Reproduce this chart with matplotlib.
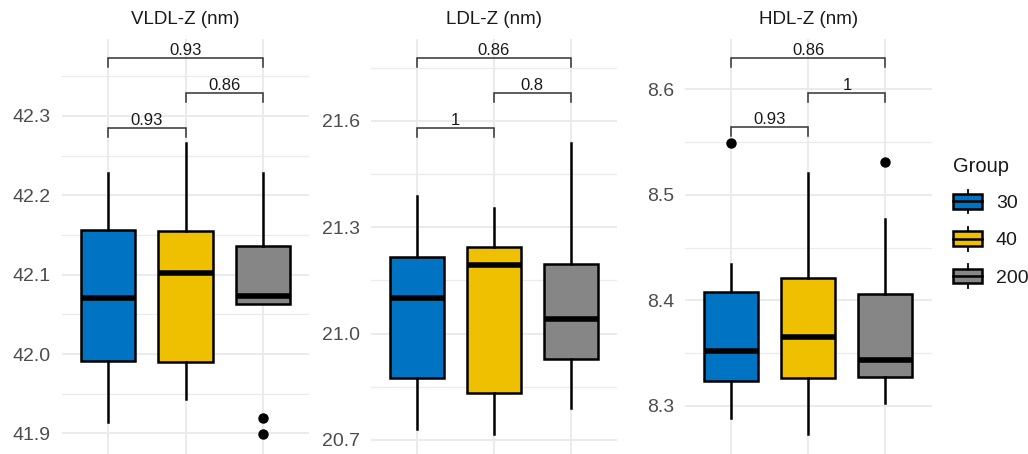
import matplotlib
matplotlib.use("Agg")
import matplotlib.pyplot as plt
from matplotlib.patches import Rectangle, Patch
from matplotlib.lines import Line2D
from matplotlib.legend_handler import HandlerBase
from matplotlib.ticker import FixedLocator, FormatStrFormatter

plt.rcParams['font.family'] = ['Liberation Sans', 'DejaVu Sans']

# ---- data ----------------------------------------------------------------
groups = ["30", "40", "200"]
group_colors = ["#0073C2", "#EFC000", "#868686"]

panel_titles = ["VLDL-Z (nm)", "LDL-Z (nm)", "HDL-Z (nm)"]

# five-number summaries per group: [whisker low, Q1, median, Q3, whisker high]
vldl_stats = [[41.914, 41.991, 42.071, 42.156, 42.228],
              [41.943, 41.990, 42.102, 42.155, 42.266],
              [42.063, 42.063, 42.073, 42.136, 42.228]]
vldl_outliers = [[], [], [41.919, 41.899]]

ldl_stats = [[20.730, 20.874, 21.100, 21.216, 21.389],
             [20.716, 20.832, 21.194, 21.245, 21.355],
             [20.791, 20.928, 21.040, 21.196, 21.537]]
ldl_outliers = [[], [], []]

hdl_stats = [[8.288, 8.3235, 8.352, 8.408, 8.434],
             [8.273, 8.326, 8.3655, 8.421, 8.521],
             [8.303, 8.327, 8.343, 8.406, 8.477]]
hdl_outliers = [[8.549], [], [8.531]]

# pairwise comparisons (group indices, 1-based) and their p-values
comparisons = [(1, 2), (2, 3), (1, 3)]
vldl_pvalues = ["0.93", "0.86", "0.93"]
ldl_pvalues = ["1", "0.8", "0.86"]
hdl_pvalues = ["0.93", "1", "0.86"]

vldl_bracket_y = [42.285, 42.329, 42.373]
ldl_bracket_y = [21.581, 21.679, 21.778]
hdl_bracket_y = [8.564, 8.5965, 8.630]

vldl_ticks = [41.9, 42.0, 42.1, 42.2, 42.3]
ldl_ticks = [20.7, 21.0, 21.3, 21.6]
hdl_ticks = [8.3, 8.4, 8.5, 8.6]

# ---- layout ---------------------------------------------------------------
W, H = 1028, 454
fig = plt.figure(figsize=(W / 100, H / 100), dpi=100)

panel_px = [(62, 309), (370.7, 617), (685, 931.7)]
top_px = 39
ylims = [(41.874, 42.397), (20.660, 21.831), (8.2543, 8.6477)]

panels = [
    (vldl_stats, vldl_outliers, vldl_pvalues, vldl_bracket_y, vldl_ticks),
    (ldl_stats, ldl_outliers, ldl_pvalues, ldl_bracket_y, ldl_ticks),
    (hdl_stats, hdl_outliers, hdl_pvalues, hdl_bracket_y, hdl_ticks),
]

GRID = "#EBEBEB"

for i, (stats, outliers, pvals, br_y, ticks) in enumerate(panels):
    x0, x1 = panel_px[i]
    ax = fig.add_axes([x0 / W, 0, (x1 - x0) / W, (H - top_px) / H])
    ax.set_xlim(0.4, 3.6)
    ax.set_ylim(*ylims[i])

    # grid
    step = ticks[1] - ticks[0]
    minor = [t + step / 2 for t in [ticks[0] - step] + ticks]
    ax.yaxis.set_major_locator(FixedLocator(ticks))
    ax.yaxis.set_minor_locator(FixedLocator(minor))
    ax.yaxis.set_major_formatter(FormatStrFormatter('%.1f'))
    ax.set_xticks([1, 2, 3])
    ax.tick_params(axis='x', labelbottom=False)
    ax.grid(True, which='major', axis='both', color=GRID, lw=1.4)
    ax.grid(True, which='minor', axis='y', color=GRID, lw=0.9)
    ax.set_axisbelow(True)
    ax.tick_params(axis='both', which='both', length=0)
    ax.tick_params(axis='y', labelsize=14, labelcolor="#4D4D4D", pad=8)
    for s in ax.spines.values():
        s.set_visible(False)

    # boxes
    bxp_stats = []
    for g, (lo, q1, med, q3, hi) in enumerate(stats):
        bxp_stats.append(dict(whislo=lo, q1=q1, med=med, q3=q3, whishi=hi,
                              fliers=outliers[g], label=groups[g]))
    bp = ax.bxp(bxp_stats, positions=[1, 2, 3], widths=0.7, patch_artist=True,
                showcaps=False,
                boxprops=dict(linewidth=1.8, edgecolor='black'),
                medianprops=dict(color='black', linewidth=4, solid_capstyle='butt'),
                whiskerprops=dict(color='black', linewidth=1.8),
                flierprops=dict(marker='o', markerfacecolor='black',
                                markeredgecolor='black', markersize=6.5))
    for patch, c in zip(bp['boxes'], group_colors):
        patch.set_facecolor(c)

    # comparison brackets
    span = ylims[i][1] - ylims[i][0]
    tip = span * 9 / (H - top_px)
    for (a, b), p, y in zip(comparisons, pvals, br_y):
        ax.plot([a, a, b, b], [y - tip, y, y, y - tip], color="#333333",
                lw=1.1, solid_joinstyle='miter', clip_on=False)
        ax.text((a + b) / 2, y, p, ha='center', va='bottom', fontsize=12,
                color="#1A1A1A")

    fig.text((x0 + x1) / 2 / W, 1 - 20 / H, panel_titles[i], ha='center',
             va='center', fontsize=13.5, color="#1A1A1A")


# ---- legend ---------------------------------------------------------------
class BoxKey(HandlerBase):
    def create_artists(self, legend, orig_handle, xdescent, ydescent,
                       width, height, fontsize, trans):
        x0, y0 = -xdescent, -ydescent
        bh = height * 0.62
        by = y0 + (height - bh) / 2
        cx = x0 + width / 2
        wl = Line2D([cx, cx], [y0, y0 + height], color='black', lw=1.3,
                    transform=trans)
        rect = Rectangle((x0, by), width, bh, facecolor=orig_handle.get_facecolor(),
                         edgecolor='black', lw=1.8, transform=trans)
        med = Line2D([x0, x0 + width], [y0 + height / 2] * 2, color='black',
                     lw=1.8, transform=trans)
        return [wl, rect, med]


handles = [Patch(facecolor=c) for c in group_colors]
leg = fig.legend(handles, groups, title="Group", loc='upper left',
                 bbox_to_anchor=(953 / W, 1 - 157 / H), frameon=False,
                 fontsize=14, title_fontsize=14.5, handlelength=1.5,
                 handleheight=1.5, handletextpad=0.7, labelspacing=0.7,
                 borderpad=0, borderaxespad=0, alignment='left',
                 handler_map={Patch: BoxKey()})
for t in leg.get_texts():
    t.set_color("#1A1A1A")
leg.get_title().set_color("#1A1A1A")

fig.savefig("out.png", dpi=100)
